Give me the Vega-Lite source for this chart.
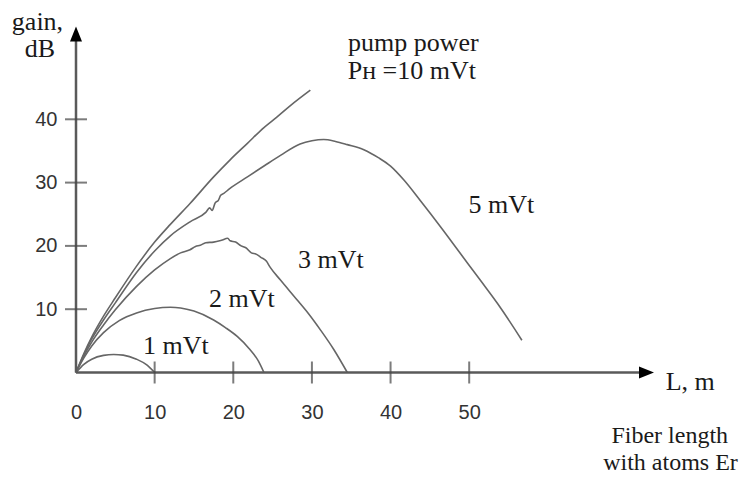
{
  "$schema": "https://vega.github.io/schema/vega-lite/v6.json",
  "width": 578,
  "height": 346,
  "autosize": {"type": "none"},
  "padding": {"left": 76, "top": 26.5, "right": 90, "bottom": 104.5},
  "background": "white",
  "config": {"view": {"stroke": null}},
  "datasets": {
    "curves": [
      {"P": "10 mVt", "L": 0, "G": 0}, {"P": "10 mVt", "L": 1, "G": 3}, {"P": "10 mVt", "L": 2, "G": 5.6}, {"P": "10 mVt", "L": 3.5, "G": 8.9}, {"P": "10 mVt", "L": 5, "G": 11.8}, {"P": "10 mVt", "L": 7.7, "G": 16.8}, {"P": "10 mVt", "L": 10, "G": 20.6}, {"P": "10 mVt", "L": 12, "G": 23.4}, {"P": "10 mVt", "L": 14.5, "G": 26.7}, {"P": "10 mVt", "L": 17.5, "G": 30.9}, {"P": "10 mVt", "L": 19.6, "G": 33.6}, {"P": "10 mVt", "L": 21.8, "G": 36.2}, {"P": "10 mVt", "L": 23.9, "G": 38.7}, {"P": "10 mVt", "L": 25.5, "G": 40.3}, {"P": "10 mVt", "L": 27.3, "G": 42.2}, {"P": "10 mVt", "L": 29.8, "G": 44.6},
      {"P": "5 mVt", "L": 0, "G": 0}, {"P": "5 mVt", "L": 1, "G": 2.8}, {"P": "5 mVt", "L": 2, "G": 5.3}, {"P": "5 mVt", "L": 3.5, "G": 8.3}, {"P": "5 mVt", "L": 5, "G": 11}, {"P": "5 mVt", "L": 7.7, "G": 15.8}, {"P": "5 mVt", "L": 10, "G": 19.2}, {"P": "5 mVt", "L": 12, "G": 21.6}, {"P": "5 mVt", "L": 14.5, "G": 23.8}, {"P": "5 mVt", "L": 16.5, "G": 25.3}, {"P": "5 mVt", "L": 17, "G": 26.0}, {"P": "5 mVt", "L": 17.3, "G": 25.6}, {"P": "5 mVt", "L": 17.7, "G": 26.8}, {"P": "5 mVt", "L": 18.1, "G": 27.2}, {"P": "5 mVt", "L": 18.4, "G": 28.0}, {"P": "5 mVt", "L": 18.8, "G": 28.3}, {"P": "5 mVt", "L": 19.5, "G": 29.0}, {"P": "5 mVt", "L": 21.8, "G": 30.9}, {"P": "5 mVt", "L": 24, "G": 32.7}, {"P": "5 mVt", "L": 26, "G": 34.3}, {"P": "5 mVt", "L": 28.5, "G": 36.1}, {"P": "5 mVt", "L": 30, "G": 36.6}, {"P": "5 mVt", "L": 31.5, "G": 36.8}, {"P": "5 mVt", "L": 33, "G": 36.5}, {"P": "5 mVt", "L": 34.5, "G": 36.0}, {"P": "5 mVt", "L": 36.6, "G": 35.2}, {"P": "5 mVt", "L": 38.5, "G": 33.9}, {"P": "5 mVt", "L": 40, "G": 32.6}, {"P": "5 mVt", "L": 41.7, "G": 30.4}, {"P": "5 mVt", "L": 44, "G": 26.8}, {"P": "5 mVt", "L": 46.3, "G": 23.1}, {"P": "5 mVt", "L": 49, "G": 18.6}, {"P": "5 mVt", "L": 51.4, "G": 14.6}, {"P": "5 mVt", "L": 54, "G": 10.2}, {"P": "5 mVt", "L": 56.7, "G": 5.1},
      {"P": "3 mVt", "L": 0, "G": 0}, {"P": "3 mVt", "L": 1, "G": 2.6}, {"P": "3 mVt", "L": 2, "G": 4.8}, {"P": "3 mVt", "L": 3.5, "G": 7.5}, {"P": "3 mVt", "L": 5, "G": 9.9}, {"P": "3 mVt", "L": 7.7, "G": 13.6}, {"P": "3 mVt", "L": 10, "G": 16.2}, {"P": "3 mVt", "L": 12, "G": 18.0}, {"P": "3 mVt", "L": 13.3, "G": 18.9}, {"P": "3 mVt", "L": 14.5, "G": 19.4}, {"P": "3 mVt", "L": 15.2, "G": 19.9}, {"P": "3 mVt", "L": 15.8, "G": 20.1}, {"P": "3 mVt", "L": 16.5, "G": 20.5}, {"P": "3 mVt", "L": 17.5, "G": 20.6}, {"P": "3 mVt", "L": 18.5, "G": 20.9}, {"P": "3 mVt", "L": 19.3, "G": 21.2}, {"P": "3 mVt", "L": 19.6, "G": 20.8}, {"P": "3 mVt", "L": 20.3, "G": 20.6}, {"P": "3 mVt", "L": 21, "G": 20.0}, {"P": "3 mVt", "L": 21.6, "G": 19.7}, {"P": "3 mVt", "L": 22.3, "G": 18.9}, {"P": "3 mVt", "L": 22.9, "G": 18.7}, {"P": "3 mVt", "L": 23.5, "G": 18.2}, {"P": "3 mVt", "L": 24.2, "G": 17.6}, {"P": "3 mVt", "L": 24.7, "G": 16.6}, {"P": "3 mVt", "L": 26, "G": 14.6}, {"P": "3 mVt", "L": 28.1, "G": 11.5}, {"P": "3 mVt", "L": 29.5, "G": 9.4}, {"P": "3 mVt", "L": 31.1, "G": 6.7}, {"P": "3 mVt", "L": 32.8, "G": 3.6}, {"P": "3 mVt", "L": 34.5, "G": 0},
      {"P": "2 mVt", "L": 0, "G": 0}, {"P": "2 mVt", "L": 1, "G": 2.3}, {"P": "2 mVt", "L": 2, "G": 4.2}, {"P": "2 mVt", "L": 3.5, "G": 6.3}, {"P": "2 mVt", "L": 5.5, "G": 8.2}, {"P": "2 mVt", "L": 7.7, "G": 9.4}, {"P": "2 mVt", "L": 10, "G": 10.1}, {"P": "2 mVt", "L": 12, "G": 10.3}, {"P": "2 mVt", "L": 13.3, "G": 10.2}, {"P": "2 mVt", "L": 15, "G": 9.7}, {"P": "2 mVt", "L": 17.5, "G": 8.3}, {"P": "2 mVt", "L": 19, "G": 7.1}, {"P": "2 mVt", "L": 20.5, "G": 5.7}, {"P": "2 mVt", "L": 22, "G": 3.8}, {"P": "2 mVt", "L": 23.2, "G": 1.8}, {"P": "2 mVt", "L": 23.9, "G": 0},
      {"P": "1 mVt", "L": 0, "G": 0}, {"P": "1 mVt", "L": 1, "G": 1.3}, {"P": "1 mVt", "L": 2, "G": 2.1}, {"P": "1 mVt", "L": 3.5, "G": 2.7}, {"P": "1 mVt", "L": 4.8, "G": 2.85}, {"P": "1 mVt", "L": 6, "G": 2.75}, {"P": "1 mVt", "L": 7.7, "G": 2.1}, {"P": "1 mVt", "L": 9, "G": 1.2}, {"P": "1 mVt", "L": 10, "G": 0}
    ],
    "labels": [
      {"t": "pump power", "L": 42.9, "G": 52.1, "s": 26},
      {"t": "Pн =10 mVt", "L": 42.7, "G": 47.6, "s": 26},
      {"t": "5 mVt", "L": 54.1, "G": 26.5, "s": 26},
      {"t": "3 mVt", "L": 32.4, "G": 17.8, "s": 26},
      {"t": "2 mVt", "L": 21.1, "G": 11.6, "s": 26},
      {"t": "1 mVt", "L": 12.7, "G": 4.2, "s": 26},
      {"t": "L, m", "L": 78.1, "G": -1.5, "s": 26},
      {"t": "Fiber length", "L": 75.5, "G": -10.0, "s": 24},
      {"t": "with atoms Er", "L": 75.6, "G": -14.3, "s": 24},
      {"t": "gain,", "L": -4.9, "G": 55.4, "s": 26},
      {"t": "dB", "L": -4.6, "G": 51.1, "s": 26}
    ],
    "xticks": [{"L": 10}, {"L": 20}, {"L": 30}, {"L": 40}, {"L": 50}],
    "yticks": [{"G": 10}, {"G": 20}, {"G": 30}, {"G": 40}],
    "one": [{"k": 1}]
  },
  "layer": [
    {
      "data": {"name": "curves"},
      "mark": {"type": "line", "interpolate": "monotone", "color": "#666666", "strokeWidth": 1.6},
      "encoding": {
        "x": {"field": "L", "type": "quantitative", "scale": {"domain": [0, 73.5], "nice": false, "zero": false},
          "axis": {"values": [0, 10, 20, 30, 40, 50], "domain": false, "ticks": false, "tickSize": 0, "grid": false, "title": null, "labelPadding": 30, "labelFlush": false, "labelOverlap": false, "labelFont": "Liberation Sans", "labelFontSize": 20, "labelColor": "#333333"}},
        "y": {"field": "G", "type": "quantitative", "scale": {"domain": [0, 54.66], "nice": false, "zero": false},
          "axis": {"values": [10, 20, 30, 40], "domain": false, "ticks": false, "tickSize": 0, "grid": false, "title": null, "labelPadding": 19, "labelFlush": false, "labelOverlap": false, "labelFont": "Liberation Sans", "labelFontSize": 20, "labelColor": "#333333"}},
        "detail": {"field": "P"}
      }
    },
    {
      "data": {"name": "one"},
      "mark": {"type": "rule", "color": "#5a5a5a", "strokeWidth": 2.5},
      "encoding": {"x": {"datum": 0, "type": "quantitative"}, "x2": {"datum": 72}, "y": {"datum": 0, "type": "quantitative"}}
    },
    {
      "data": {"name": "one"},
      "mark": {"type": "rule", "color": "#5a5a5a", "strokeWidth": 2.5},
      "encoding": {"x": {"datum": 0, "type": "quantitative"}, "y": {"datum": 0, "type": "quantitative"}, "y2": {"datum": 53}}
    },
    {
      "data": {"name": "xticks"},
      "mark": {"type": "tick", "orient": "vertical", "color": "#444444", "size": 22, "thickness": 2},
      "encoding": {"x": {"field": "L", "type": "quantitative"}, "y": {"datum": 0, "type": "quantitative"}}
    },
    {
      "data": {"name": "yticks"},
      "mark": {"type": "tick", "orient": "horizontal", "color": "#444444", "size": 22, "thickness": 2},
      "encoding": {"y": {"field": "G", "type": "quantitative"}, "x": {"datum": 0, "type": "quantitative"}}
    },
    {
      "data": {"name": "one"},
      "mark": {"type": "point", "shape": "M0,0L-2,-0.8L-2,0.8Z", "size": 225, "filled": true, "color": "#000000", "opacity": 1, "strokeWidth": 0},
      "encoding": {"x": {"datum": 73.5, "type": "quantitative"}, "y": {"datum": 0, "type": "quantitative"}}
    },
    {
      "data": {"name": "one"},
      "mark": {"type": "point", "shape": "M0,0L0.8,2L-0.8,2Z", "size": 225, "filled": true, "color": "#000000", "opacity": 1, "strokeWidth": 0},
      "encoding": {"x": {"datum": 0, "type": "quantitative"}, "y": {"datum": 54.66, "type": "quantitative"}}
    },
    {
      "data": {"name": "labels"},
      "mark": {"type": "text", "font": "Liberation Serif", "color": "#1a1a1a", "align": "center", "baseline": "middle"},
      "encoding": {"x": {"field": "L", "type": "quantitative"}, "y": {"field": "G", "type": "quantitative"}, "text": {"field": "t"}, "size": {"field": "s", "type": "quantitative", "scale": null}}
    }
  ]
}
